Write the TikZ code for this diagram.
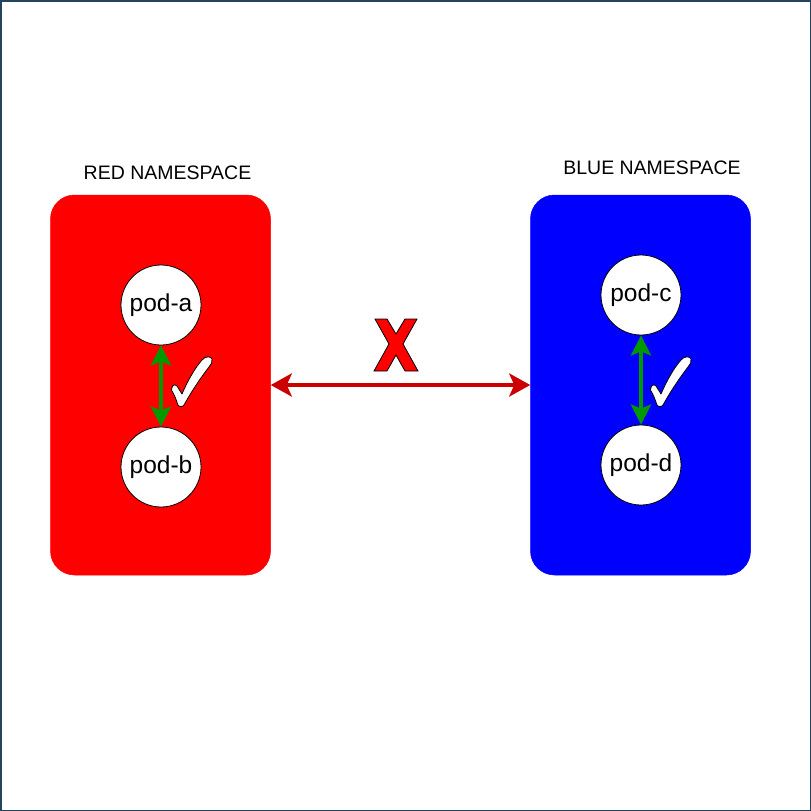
\documentclass[tikz,border=0pt]{standalone}
\usepackage{fontspec}
\setmainfont{Liberation Sans}
\usetikzlibrary{arrows.meta}
\definecolor{framecol}{HTML}{23445D}
\definecolor{nsred}{HTML}{FF0000}
\definecolor{nsblue}{HTML}{0000FF}
\definecolor{okgreen}{HTML}{009900}
\definecolor{denyred}{HTML}{CC0000}
\begin{document}
\begin{tikzpicture}[x=1pt,y=-1pt,
  nsbox/.style={rectangle, rounded corners=24pt, minimum width=220pt, minimum height=380pt, draw=#1, fill=#1, line width=0.5pt},
  pod/.style={circle, draw=black, fill=white, line width=0.8pt, minimum size=80pt, inner sep=0pt, font=\fontsize{24.5}{28}\selectfont},
  nslabel/.style={font=\fontsize{19.5}{23}\selectfont, inner sep=0pt},
  okarrow/.style={draw=okgreen, line width=4pt, {Stealth[length=20pt,width=20pt,inset=4pt]}-{Stealth[length=20pt,width=20pt,inset=4pt]}},
  denyarrow/.style={draw=denyred, line width=4pt, {Stealth[length=21pt,width=23pt,inset=5pt]}-{Stealth[length=21pt,width=23pt,inset=5pt]}},
  markshape/.style={fill=white, draw=black, line width=0.8pt, line join=round},
  crossshape/.style={fill=nsred, draw=black, line width=0.8pt, line join=miter},
  framebox/.style={draw=framecol, line width=1.5pt}
]
\useasboundingbox (0,0) rectangle (811,811);
\draw[framebox] (0.75,0.75) rectangle (810.25,810.25);

% namespaces
\node[nsbox=nsred] (red) at (160.5,385) {};
\node[nsbox=nsblue] (blue) at (640.5,385) {};
\node[nslabel] (redlbl) at (167.5,172.5) {RED NAMESPACE};
\node[nslabel] (bluelbl) at (652,168) {BLUE NAMESPACE};

% pods
\node[pod] (poda) at (161,305) {pod-a};
\node[pod] (podb) at (161,467) {pod-b};
\node[pod] (podc) at (641,295) {pod-c};
\node[pod] (podd) at (641,465) {pod-d};

% connectors
\draw[okarrow] (poda.south) -- (podb.north);
\draw[okarrow] (podc.south) -- (podd.north);
\draw[denyarrow] (red.east) -- (blue.west);

% check marks
\foreach \sx in {171,650}{
\begin{scope}[shift={(\sx,356)}]
\draw[markshape] (1,32) .. controls (1,29) and (4,28) .. (6,30)
  -- (11,38)
  .. controls (17,24) and (24,12) .. (31,4)
  .. controls (34,0) and (40,0) .. (41,3)
  .. controls (42,6) and (40,8) .. (38,11)
  .. controls (28,24) and (19,38) .. (13,49)
  .. controls (12,51) and (8,51) .. (7,49)
  .. controls (5,43) and (3,38) .. (1,35)
  .. controls (0,34) and (0,33) .. (1,32) -- cycle;
\end{scope}}

% cross
\draw[crossshape] (375,319) -- (387,319) -- (396,334) -- (405,319) -- (417,319)
  -- (403,344) -- (418,371) -- (405,371) -- (396,355) -- (387,371)
  -- (374,371) -- (389,344) -- cycle;
\end{tikzpicture}
\end{document}
